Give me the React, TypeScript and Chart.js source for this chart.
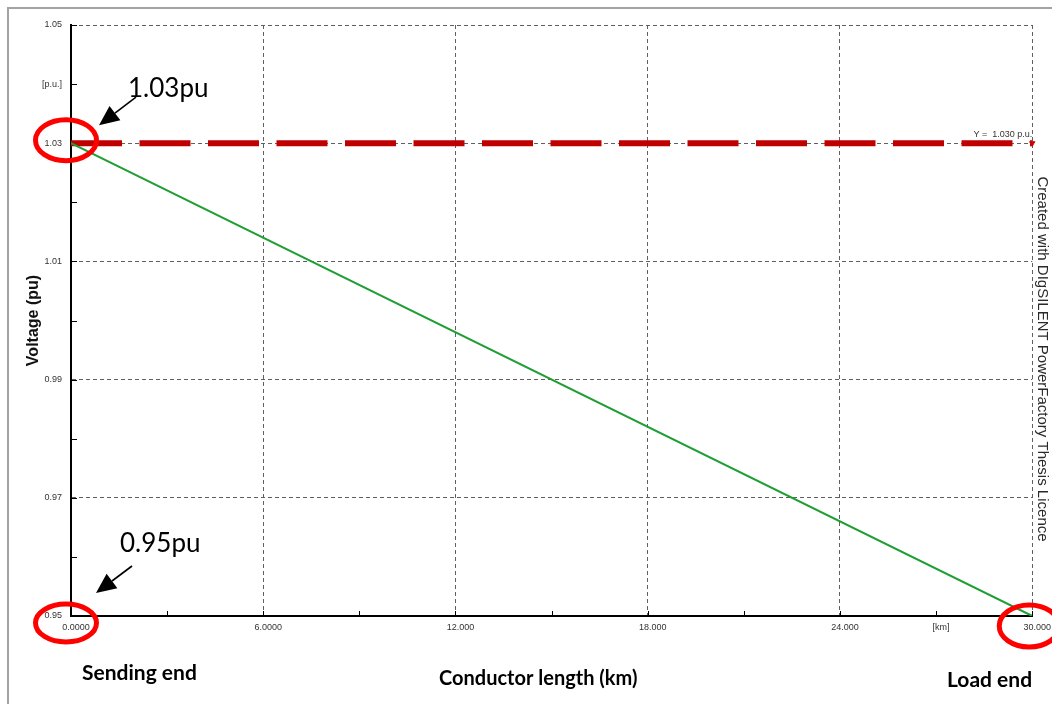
import React, { useEffect, useRef } from 'react';
import { Chart, registerables } from 'chart.js';

Chart.register(...registerables);

// ---- data ----
const distanceKm = [0, 30];
const voltagePu = [1.03, 0.95];
const limitDistanceKm = [0, 30];
const limitPu = [1.03, 1.03];
const limitLabel = 'Y =  1.030 p.u.';

const xTickValues = [0, 3, 6, 9, 12, 15, 18, 21, 24, 27, 30];
const xTickLabels = ['0.0000', '', '6.0000', '', '12.000', '', '18.000', '', '24.000', '[km]', '30.000'];
const yTickValues = [0.95, 0.96, 0.97, 0.98, 0.99, 1.0, 1.01, 1.02, 1.03, 1.04, 1.05];
const yTickLabels = ['0.95', '', '0.97', '', '0.99', '', '1.01', '', '1.03', '[p.u.]', '1.05'];

const xAxisTitle = 'Conductor length (km)';
const yAxisTitle = 'Voltage (pu)';
const sendingLabel = 'Sending end';
const loadLabel = 'Load end';
const highCallout = '1.03pu';
const lowCallout = '0.95pu';
const watermark = 'Created with DIgSILENT PowerFactory Thesis Licence';

const SANS = '"Liberation Sans", Arial, sans-serif';
const CAL = 'Lato, "Open Sans", sans-serif';

function arrow(ctx: CanvasRenderingContext2D, x1: number, y1: number, x2: number, y2: number) {
  const ang = Math.atan2(y2 - y1, x2 - x1);
  const head = 20;
  const half = 9;
  const bx = x2 - head * Math.cos(ang);
  const by = y2 - head * Math.sin(ang);
  ctx.save();
  ctx.strokeStyle = '#000';
  ctx.fillStyle = '#000';
  ctx.lineWidth = 1.6;
  ctx.beginPath();
  ctx.moveTo(x1, y1);
  ctx.lineTo(bx, by);
  ctx.stroke();
  ctx.beginPath();
  ctx.moveTo(x2, y2);
  ctx.lineTo(bx + half * Math.sin(ang), by - half * Math.cos(ang));
  ctx.lineTo(bx - half * Math.sin(ang), by + half * Math.cos(ang));
  ctx.closePath();
  ctx.fill();
  ctx.restore();
}

function ring(ctx: CanvasRenderingContext2D, cx: number, cy: number, rx: number, ry: number) {
  ctx.save();
  ctx.strokeStyle = '#ff0000';
  ctx.lineWidth = 5;
  ctx.beginPath();
  ctx.ellipse(cx, cy, rx, ry, 0, 0, Math.PI * 2);
  ctx.stroke();
  ctx.restore();
}

const decorPlugin = {
  id: 'decor',
  beforeDraw(chart: any) {
    const { ctx, width, height } = chart;
    ctx.save();
    ctx.fillStyle = '#ffffff';
    ctx.fillRect(0, 0, width, height);
    ctx.strokeStyle = '#a3a3a3';
    ctx.lineWidth = 2;
    ctx.beginPath();
    ctx.moveTo(8, height);
    ctx.lineTo(8, 8);
    ctx.lineTo(width, 8);
    ctx.stroke();
    ctx.restore();
  },
  beforeDatasetsDraw(chart: any) {
    const { ctx, chartArea } = chart;
    const xs = chart.scales.x;
    const ys = chart.scales.y;
    ctx.save();
    ctx.strokeStyle = '#000';
    ctx.lineWidth = 1;
    ctx.beginPath();
    yTickValues.forEach((v) => {
      const py = Math.round(ys.getPixelForValue(v)) + 0.5;
      ctx.moveTo(chartArea.left, py);
      ctx.lineTo(chartArea.left + 6, py);
    });
    xTickValues.forEach((v) => {
      const px = Math.round(xs.getPixelForValue(v)) + 0.5;
      ctx.moveTo(px, chartArea.bottom);
      ctx.lineTo(px, chartArea.bottom - 5);
    });
    ctx.stroke();
    ctx.restore();
  },
  afterDraw(chart: any) {
    const { ctx } = chart;
    const xs = chart.scales.x;
    const ys = chart.scales.y;
    const x0 = xs.getPixelForValue(distanceKm[0]);
    const x1 = xs.getPixelForValue(distanceKm[distanceKm.length - 1]);
    const yHigh = ys.getPixelForValue(voltagePu[0]);
    const yLow = ys.getPixelForValue(voltagePu[voltagePu.length - 1]);
    const yLimit = ys.getPixelForValue(limitPu[limitPu.length - 1]);

    // limit label
    ctx.save();
    ctx.fillStyle = '#333';
    ctx.font = `9px ${SANS}`;
    ctx.textAlign = 'right';
    ctx.textBaseline = 'alphabetic';
    ctx.fillText(limitLabel, xs.getPixelForValue(limitDistanceKm[1]), yLimit - 6);
    ctx.restore();

    // rings
    ring(ctx, x0 - 5, yHigh - 3, 30.5, 20.5);
    ring(ctx, x0 - 5, yLow + 7, 30.5, 19);
    ring(ctx, x1 - 3, yLow + 10, 30, 21);

    // callouts
    arrow(ctx, x0 + 65, yHigh - 46, x0 + 28, yHigh - 18);
    arrow(ctx, x0 + 61, yLow - 50, x0 + 25, yLow - 23);

    ctx.save();
    ctx.fillStyle = '#000';
    ctx.textBaseline = 'alphabetic';
    ctx.textAlign = 'left';
    ctx.font = `26px ${CAL}`;
    ctx.fillText(highCallout, x0 + 57, yHigh - 46);
    ctx.fillText(lowCallout, x0 + 49, yLow - 64);

    ctx.font = `bold 21px ${CAL}`;
    ctx.fillText(sendingLabel, 82, 680);
    ctx.font = `bold 20px ${CAL}`;
    ctx.fillText(xAxisTitle, 439, 685);
    ctx.font = `bold 21px ${CAL}`;
    ctx.fillText(loadLabel, 947, 687);

    // watermark (rotated)
    ctx.translate(1042, 359);
    ctx.rotate(Math.PI / 2);
    ctx.font = `15px ${SANS}`;
    ctx.fillStyle = '#2a2a2a';
    ctx.textAlign = 'center';
    ctx.textBaseline = 'middle';
    ctx.fillText(watermark, 0, 0);
    ctx.restore();
  },
};

export default function App() {
  const ref = useRef<HTMLCanvasElement | null>(null);

  useEffect(() => {
    if (!ref.current) return;
    const gridColor = (c: any) => (c.index % 2 === 0 ? '#606060' : 'rgba(0,0,0,0)');
    const chart = new Chart(ref.current, {
      type: 'line',
      data: {
        datasets: [
          {
            label: 'Voltage',
            data: distanceKm.map((d, i) => ({ x: d, y: voltagePu[i] })),
            borderColor: '#1f9e34',
            borderWidth: 2,
            pointRadius: 0,
            fill: false,
            tension: 0,
          },
          {
            label: 'Limit',
            data: limitDistanceKm.map((d, i) => ({ x: d, y: limitPu[i] })),
            borderColor: '#c00000',
            borderWidth: 6,
            borderDash: [51, 17.5],
            borderCapStyle: 'butt',
            pointStyle: 'triangle',
            pointRotation: 180,
            pointRadius: (c: any) => (c.dataIndex === limitPu.length - 1 ? 3 : 0),
            pointBackgroundColor: '#d00000',
            pointBorderColor: '#d00000',
            pointBorderWidth: 1,
            fill: false,
            tension: 0,
            clip: 10,
          } as any,
        ],
      },
      options: {
        responsive: false,
        animation: false,
        events: [],
        layout: { padding: { left: 8, right: 19, top: 25, bottom: 0 } },
        plugins: {
          legend: { display: false },
          tooltip: { enabled: false },
          title: { display: false },
        },
        scales: {
          x: {
            type: 'linear',
            min: 0,
            max: 30,
            afterBuildTicks: (s: any) => {
              s.ticks = xTickValues.map((v) => ({ value: v }));
            },
            afterFit: (s: any) => {
              s.height = 88;
            },
            ticks: {
              autoSkip: false,
              maxRotation: 0,
              padding: 6,
              labelOffset: 5,
              color: '#333',
              font: { family: SANS, size: 9 },
              callback: (_v: any, i: number) => xTickLabels[i],
            },
            grid: { color: gridColor, lineWidth: 1, drawTicks: false },
            border: { display: true, color: '#000', width: 2, dash: [4, 3] },
          },
          y: {
            type: 'linear',
            min: 0.95,
            max: 1.05,
            afterBuildTicks: (s: any) => {
              s.ticks = yTickValues.map((v) => ({ value: v }));
            },
            afterFit: (s: any) => {
              s.width = 63;
            },
            ticks: {
              autoSkip: false,
              padding: 9,
              color: '#333',
              font: { family: SANS, size: 9 },
              callback: (_v: any, i: number) => yTickLabels[i],
            },
            grid: { color: gridColor, lineWidth: 1, drawTicks: false },
            border: { display: true, color: '#000', width: 2, dash: [4, 3] },
            title: {
              display: true,
              text: yAxisTitle,
              color: '#111',
              font: { family: SANS, size: 16, weight: 'bold' },
              padding: { top: 16, bottom: 0 },
            },
          },
        },
      } as any,
      plugins: [decorPlugin],
    });
    return () => chart.destroy();
  }, []);

  return (
    <div style={{ position: 'absolute', left: 0, top: 0, width: 1052, height: 704, background: '#fff' }}>
      <canvas ref={ref} width={1052} height={704} style={{ display: 'block', width: 1052, height: 704 }} />
    </div>
  );
}
